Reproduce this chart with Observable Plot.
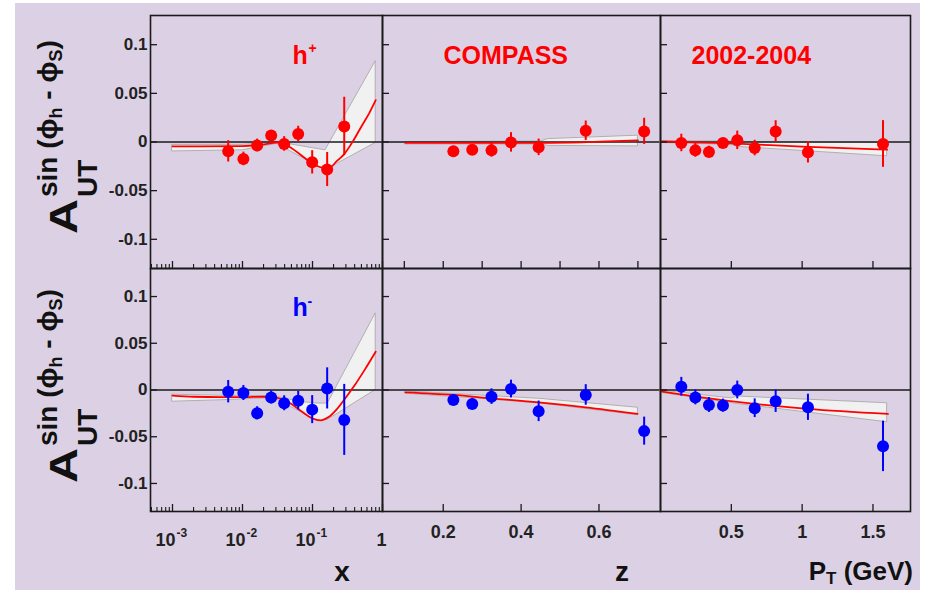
<!DOCTYPE html>
<html><head><meta charset="utf-8">
<script src="https://cdn.jsdelivr.net/npm/d3@7"></script>
<script src="https://cdn.jsdelivr.net/npm/@observablehq/plot@0.6"></script>
<style>
body{margin:0;background:#fff;}
#fig{position:relative;width:926px;height:590px;overflow:hidden;background:#fff;font-family:"Liberation Sans",Arial,Helvetica,sans-serif;}
#bg{position:absolute;left:15px;top:3px;width:905px;height:600px;background:#dcd1e4;}
.panel{position:absolute;}
.panel svg{overflow:visible;}
#titles{position:absolute;left:0;top:0;pointer-events:none;}
</style></head>
<body>
<div id="fig"><div id="bg"></div></div>
<script>
// ---------- data ----------
// Bjorken x bins
const xBins = [0.00625, 0.0103, 0.0162, 0.0257, 0.0394, 0.0625, 0.099, 0.162, 0.284];
const hPlusX = [-0.0096, -0.0174, -0.0035, 0.0067, -0.002, 0.0082, -0.0209, -0.0283, 0.016];
const hPlusXErr = [0.011, 0.007, 0.0065, 0.005, 0.0075, 0.008, 0.012, 0.0175, 0.03];
const hMinusX = [-0.0018, -0.0032, -0.0249, -0.0079, -0.0142, -0.0114, -0.021, 0.0017, -0.032];
const hMinusXErr = [0.012, 0.008, 0.007, 0.007, 0.008, 0.01, 0.015, 0.022, 0.038];
// z bins
const zBins = [0.226, 0.2745, 0.324, 0.374, 0.445, 0.566, 0.716];
const hPlusZ = [-0.0096, -0.0079, -0.0086, -0.0004, -0.0055, 0.0116, 0.0109];
const hPlusZErr = [0.005, 0.005, 0.007, 0.01, 0.0085, 0.01, 0.0135];
const hMinusZ = [-0.0106, -0.0149, -0.0071, 0.001, -0.0228, -0.0053, -0.044];
const hMinusZErr = [0.005, 0.006, 0.0083, 0.0095, 0.011, 0.011, 0.015];
// PT bins (GeV)
const ptBins = [0.147, 0.246, 0.342, 0.441, 0.542, 0.665, 0.813, 1.041, 1.571];
const hPlusPt = [-0.001, -0.0086, -0.0103, -0.001, 0.0017, -0.0062, 0.0109, -0.0106, -0.002];
const hPlusPtErr = [0.009, 0.007, 0.006, 0.005, 0.0095, 0.008, 0.011, 0.011, 0.024];
const hMinusPt = [0.0035, -0.0079, -0.016, -0.0167, 0.0, -0.0195, -0.012, -0.0185, -0.0603];
const hMinusPtErr = [0.01, 0.008, 0.008, 0.007, 0.0095, 0.01, 0.012, 0.014, 0.027];

// model curves (red) and uncertainty bands (grey)
const fitPlusXx = [0.001, 0.01, 0.02, 0.031, 0.153, 0.18, 0.22, 0.28, 0.38, 0.5, 0.65, 0.8];
const fitPlusXy = [-0.0045, -0.0042, -0.0025, -0.0005, -0.0266, -0.026, -0.02, -0.013, 0.001, 0.016, 0.03, 0.043];
const bandPlusXx = [0.001, 0.01, 0.031, 0.153, 0.8];
const bandPlusXlo = [-0.0097, -0.0085, -0.002, -0.029, -0.001];
const bandPlusXhi = [-0.003, -0.003, 0.0, -0.0086, 0.083];

const fitMinusXx = [0.001, 0.002, 0.005, 0.01, 0.02, 0.03, 0.05, 0.07, 0.1, 0.13, 0.17, 0.22, 0.3, 0.4, 0.55, 0.8];
const fitMinusXy = [-0.006, -0.0072, -0.0076, -0.0076, -0.0072, -0.0082, -0.015, -0.023, -0.0305, -0.0325, -0.029, -0.021, -0.008, 0.005, 0.021, 0.041];
const bandMinusXx = [0.001, 0.005, 0.02, 0.03, 0.07, 0.12, 0.165, 0.8];
const bandMinusXlo = [-0.0125, -0.011, -0.009, -0.0095, -0.024, -0.0335, -0.032, 0.0];
const bandMinusXhi = [-0.005, -0.0062, -0.0065, -0.007, -0.013, -0.0145, -0.0145, 0.082];

const fitPlusZx = [0.103, 0.45, 0.7];
const fitPlusZy = [-0.001, -0.001, 0.0016];
const bandPlusZx = [0.103, 0.45, 0.47, 0.7];
const bandPlusZlo = [-0.0025, -0.0025, -0.004, -0.0045];
const bandPlusZhi = [0.0, 0.0005, 0.003, 0.0065];

const fitMinusZx = [0.103, 0.226, 0.324, 0.445, 0.566, 0.699];
const fitMinusZy = [-0.0025, -0.0053, -0.0089, -0.0132, -0.0185, -0.0256];
const bandMinusZx = [0.103, 0.3, 0.45, 0.7];
const bandMinusZlo = [-0.004, -0.0095, -0.0145, -0.027];
const bandMinusZhi = [-0.0015, -0.006, -0.0095, -0.019];

const fitPlusPtx = [0, 0.5, 1.0, 1.6];
const fitPlusPty = [0.0006, -0.0015, -0.0048, -0.0079];
const bandPlusPtx = [0, 0.5, 0.55, 1.6];
const bandPlusPtlo = [-0.001, -0.003, -0.005, -0.0147];
const bandPlusPthi = [0.001, 0.0005, 0.0, -0.001];

const fitMinusPtx = [0, 0.25, 0.665, 1.04, 1.606];
const fitMinusPty = [-0.0015, -0.0071, -0.0149, -0.0202, -0.0256];
const bandMinusPtx = [0, 0.5, 0.55, 1.6];
const bandMinusPtlo = [-0.003, -0.014, -0.015, -0.0345];
const bandMinusPthi = [-0.0005, -0.009, -0.007, -0.0142];

// ticks and tick labels
const yTicks = [-0.1, -0.05, 0, 0.05, 0.1];
const yTickLabels = ["-0.1", "-0.05", "0", "0.05", "0.1"];
const logMajor = [0.001, 0.01, 0.1, 1];
const logLabelTicks = [0.001, 0.01, 0.1];
const logBase = ["10", "10", "10"];
const logExp = ["-3", "-2", "-1"];
const logOne = ["1"];
const zTicksTop = [0.1, 0.2, 0.3, 0.4, 0.5, 0.6, 0.7];
const zTicksBottom = [0.2, 0.4, 0.6];
const zLabels = ["0.2", "0.4", "0.6"];
const ptTicks = [0.5, 1, 1.5];
const ptLabels = ["0.5", "1", "1.5"];

// ---------- layout ----------
const colX = [150, 382, 660], colW = [232, 278, 250];
const rowY = [15, 268], rowH = [253, 243];
const yDomain = [-0.13, 0.13];
const xLogDomain = [0.000485, 1], zDomain = [0.044, 0.758], ptDomain = [0, 1.765];
const FONT = '"Liberation Sans", Arial, Helvetica, sans-serif';
const RED = "#ff0000", BLUE = "#0000ff", INK = "#1a1a1a";

const logMinor = [];
for (const d of [0.0001, 0.001, 0.01, 0.1]) for (let k = 2; k <= 9; k++) { const v = k * d; if (v >= xLogDomain[0] && v < 1) logMinor.push(v); }

const fig = document.getElementById("fig");
const zip = (xs, ys, es) => xs.map((v, i) => ({x: v, y: ys[i], e: es ? es[i] : 0}));
const zipBand = (xs, lo, hi) => xs.map((v, i) => ({x: v, lo: lo[i], hi: hi[i]}));

function lab(o) { return Object.assign({fontSize: 17, fontWeight: "bold", fill: "#222", fontFamily: FONT}, o); }

function panel(o) {
  const w = colW[o.col], h = rowH[o.row];
  const pts = zip(o.x, o.y, o.e);
  const fit = zip(o.fitX, o.fitY);
  const band = zipBand(o.bandX, o.bandLo, o.bandHi);
  const marks = [
    Plot.areaY(band, {x: "x", y1: "lo", y2: "hi", fill: "#f1f1f1", stroke: "#a9a9a9", strokeWidth: 0.9}),
    Plot.ruleY([0], {stroke: INK, strokeWidth: 1.5}),
    Plot.line(fit, {x: "x", y: "y", stroke: RED, strokeWidth: 1.8, curve: "monotone-x"}),
    Plot.ruleX(pts, {x: "x", y1: d => d.y - d.e, y2: d => d.y + d.e, stroke: o.color, strokeWidth: 2}),
    Plot.dot(pts, {x: "x", y: "y", r: 6, fill: o.color}),
    Plot.ruleY(yTicks, {y: d => d, insetRight: w - 7, stroke: INK, strokeWidth: 1.3}),
    Plot.ruleX(o.xMajor, {x: d => d, insetTop: h - 7, stroke: INK, strokeWidth: 1.3})
  ];
  if (o.xMinor) marks.push(Plot.ruleX(o.xMinor, {x: d => d, insetTop: h - 4, stroke: INK, strokeWidth: 1.1}));
  marks.push(Plot.frame({stroke: INK, strokeWidth: 1.6}));
  if (o.col === 0) marks.push(Plot.text(yTicks, lab({y: d => d, text: yTickLabels, frameAnchor: "left", textAnchor: "end", lineAnchor: "middle", dx: -3})));
  if (o.extra) marks.push(...o.extra);
  const chart = Plot.plot({
    width: w, height: h, margin: 0,
    x: {type: o.xType, domain: o.xDomain, axis: null},
    y: {domain: yDomain, axis: null},
    style: {background: "transparent", overflow: "visible", fontFamily: FONT},
    marks
  });
  const div = document.createElement("div");
  div.className = "panel";
  div.style.left = colX[o.col] + "px";
  div.style.top = rowY[o.row] + "px";
  div.appendChild(chart);
  fig.appendChild(div);
}

const note = (t, o) => Plot.text([t], Object.assign({text: d => d, frameAnchor: "top-left", textAnchor: "start", lineAnchor: "bottom", fontWeight: "bold", fontFamily: FONT}, o));

// top row: h+
panel({col: 0, row: 0, xType: "log", xDomain: xLogDomain, x: xBins, y: hPlusX, e: hPlusXErr, color: RED,
  fitX: fitPlusXx, fitY: fitPlusXy, bandX: bandPlusXx, bandLo: bandPlusXlo, bandHi: bandPlusXhi,
  xMajor: logMajor, xMinor: logMinor,
  extra: [note("h", {dx: 142, dy: 48, fontSize: 25, fill: RED}), note("+", {dx: 158, dy: 37, fontSize: 14, fill: RED})]});
panel({col: 1, row: 0, xType: "linear", xDomain: zDomain, x: zBins, y: hPlusZ, e: hPlusZErr, color: RED,
  fitX: fitPlusZx, fitY: fitPlusZy, bandX: bandPlusZx, bandLo: bandPlusZlo, bandHi: bandPlusZhi,
  xMajor: zTicksTop,
  extra: [note("COMPASS", {dx: 61, dy: 48, fontSize: 25, fill: RED})]});
panel({col: 2, row: 0, xType: "linear", xDomain: ptDomain, x: ptBins, y: hPlusPt, e: hPlusPtErr, color: RED,
  fitX: fitPlusPtx, fitY: fitPlusPty, bandX: bandPlusPtx, bandLo: bandPlusPtlo, bandHi: bandPlusPthi,
  xMajor: ptTicks,
  extra: [note("2002-2004", {dx: 31, dy: 48, fontSize: 25, fill: RED})]});

// bottom row: h-
panel({col: 0, row: 1, xType: "log", xDomain: xLogDomain, x: xBins, y: hMinusX, e: hMinusXErr, color: BLUE,
  fitX: fitMinusXx, fitY: fitMinusXy, bandX: bandMinusXx, bandLo: bandMinusXlo, bandHi: bandMinusXhi,
  xMajor: logMajor, xMinor: logMinor,
  extra: [
    note("h", {dx: 142, dy: 47, fontSize: 25, fill: BLUE}), note("-", {dx: 157, dy: 37, fontSize: 14, fill: BLUE}),
    Plot.text(logLabelTicks, lab({x: d => d, text: logBase, frameAnchor: "bottom", lineAnchor: "bottom", textAnchor: "end", dx: 3, dy: 34, fontSize: 18})),
    Plot.text(logLabelTicks, lab({x: d => d, text: logExp, frameAnchor: "bottom", lineAnchor: "bottom", textAnchor: "start", dx: 4, dy: 25, fontSize: 12})),
    Plot.text([1], lab({x: d => d, text: logOne, frameAnchor: "bottom", lineAnchor: "bottom", dx: -1, dy: 34, fontSize: 18}))
  ]});
panel({col: 1, row: 1, xType: "linear", xDomain: zDomain, x: zBins, y: hMinusZ, e: hMinusZErr, color: BLUE,
  fitX: fitMinusZx, fitY: fitMinusZy, bandX: bandMinusZx, bandLo: bandMinusZlo, bandHi: bandMinusZhi,
  xMajor: zTicksBottom,
  extra: [Plot.text(zTicksBottom, lab({x: d => d, text: zLabels, frameAnchor: "bottom", lineAnchor: "bottom", dy: 26, fontSize: 18}))]});
panel({col: 2, row: 1, xType: "linear", xDomain: ptDomain, x: ptBins, y: hMinusPt, e: hMinusPtErr, color: BLUE,
  fitX: fitMinusPtx, fitY: fitMinusPty, bandX: bandMinusPtx, bandLo: bandMinusPtlo, bandHi: bandMinusPthi,
  xMajor: ptTicks,
  extra: [Plot.text(ptTicks, lab({x: d => d, text: ptLabels, frameAnchor: "bottom", lineAnchor: "bottom", dy: 26, fontSize: 18}))]});

// ---------- axis titles ----------
const svg = d3.select(fig).append("svg").attr("id", "titles").attr("width", 926).attr("height", 590)
  .attr("font-family", FONT).attr("font-weight", "bold").attr("fill", "#111");

function yTitle(py) {
  const g = svg.append("g").attr("transform", `translate(77,${py}) rotate(-90)`);
  g.append("text").attr("font-size", 39).attr("textLength", 35).attr("lengthAdjust", "spacingAndGlyphs").text("A");
  g.append("text").attr("x", 37).attr("y", 20).attr("font-size", 28).text("UT");
  const t = g.append("text").attr("x", 37).attr("y", -20).attr("font-size", 28);
  t.append("tspan").text("sin (\u03d5");
  t.append("tspan").attr("font-size", 18).attr("dy", 5).text("h");
  t.append("tspan").attr("dy", -5).text(" - \u03d5");
  t.append("tspan").attr("font-size", 18).attr("dy", 5).text("S");
  t.append("tspan").attr("dy", -5).text(")");
}
yTitle(234);
yTitle(483);

svg.append("text").attr("x", 342).attr("y", 581).attr("text-anchor", "middle").attr("font-size", 28).text("x");
svg.append("text").attr("x", 622).attr("y", 581).attr("text-anchor", "middle").attr("font-size", 28).text("z");
const pt = svg.append("text").attr("x", 913).attr("y", 580).attr("text-anchor", "end").attr("font-size", 26);
pt.append("tspan").text("P");
pt.append("tspan").attr("font-size", 17).attr("dy", 4).text("T");
pt.append("tspan").attr("dy", -4).text(" (GeV)");
</script>
</body></html>
